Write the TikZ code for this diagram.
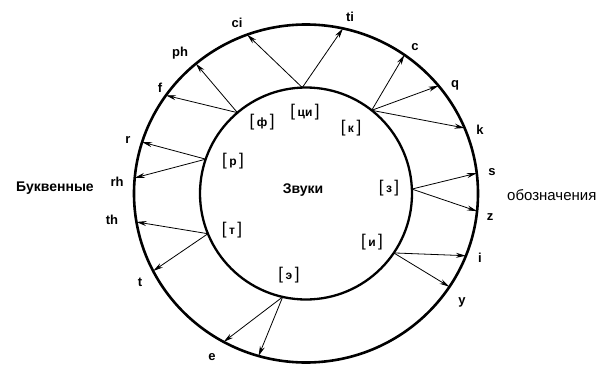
\documentclass[tikz,border=0pt]{standalone}
\usepackage{fontspec}
\setmainfont{Liberation Sans}
\usetikzlibrary{arrows.meta}
\newcommand{\snd}[1]{{\fontsize{17}{18}\selectfont[}\kern2.5pt{\fontsize{12}{13}\selectfont\bfseries #1}\kern2.5pt{\fontsize{17}{18}\selectfont]}}
\begin{document}
\begin{tikzpicture}[x=1pt,y=1pt,
  ring/.style={line width=2.6pt},
  arr/.style={line width=0.8pt,-{Stealth[length=10pt,width=5pt]}},
  lbl/.style={font=\fontsize{13}{14}\selectfont\bfseries,inner sep=0pt},
  sndlbl/.style={inner sep=0pt},
  word/.style={font=\fontsize{14}{15}\selectfont\bfseries,inner sep=0pt}]
\useasboundingbox (0,0) rectangle (603,368);
\fill[white] (0,0) rectangle (603,368);
\coordinate (C) at (306,174.5);
\draw[ring] (C) ellipse [x radius=172, y radius=169];
\draw[ring,line width=2.3pt] (C) circle [radius=106];
% inner source points
\path (C) ++(92:106) coordinate (s1);
\path (C) ++(130.3:106) coordinate (s2);
\path (C) ++(161.1:106) coordinate (s3);
\path (C) ++(202.3:106) coordinate (s4);
\path (C) ++(257.3:106) coordinate (s5);
\path (C) ++(325.9:106) coordinate (s6);
\path (C) ++(2.4:106) coordinate (s7);
\path (C) ++(51.7:106) coordinate (s8);
% outer end points
\path (C) ++(110:172 and 169) coordinate (oci);
\path (C) ++(77.6:172 and 169) coordinate (oti);
\path (C) ++(129.8:172 and 169) coordinate (oph);
\path (C) ++(144.5:172 and 169) coordinate (of);
\path (C) ++(162.3:172 and 169) coordinate (or);
\path (C) ++(174.7:172 and 169) coordinate (orh);
\path (C) ++(189.7:172 and 169) coordinate (oth);
\path (C) ++(207.3:172 and 169) coordinate (ot);
\path (C) ++(241.4:172 and 169) coordinate (oe1);
\path (C) ++(254:172 and 169) coordinate (oe2);
\path (C) ++(326.5:172 and 169) coordinate (oy);
\path (C) ++(338.4:172 and 169) coordinate (oi);
\path (C) ++(354:172 and 169) coordinate (oz);
\path (C) ++(6.9:172 and 169) coordinate (os);
\path (C) ++(22.8:172 and 169) coordinate (ok);
\path (C) ++(39.6:172 and 169) coordinate (oq);
\path (C) ++(55.1:172 and 169) coordinate (oc);
% arrows
\draw[arr] (s1) -- (oci);
\draw[arr] (s1) -- (oti);
\draw[arr] (s2) -- (oph);
\draw[arr] (s2) -- (of);
\draw[arr] (s3) -- (or);
\draw[arr] (s3) -- (orh);
\draw[arr] (s4) -- (oth);
\draw[arr] (s4) -- (ot);
\draw[arr] (s5) -- (oe1);
\draw[arr] (s5) -- (oe2);
\draw[arr] (s6) -- (oi);
\draw[arr] (s6) -- (oy);
\draw[arr] (s7) -- (os);
\draw[arr] (s7) -- (oz);
\draw[arr] (s8) -- (oc);
\draw[arr] (s8) -- (oq);
\draw[arr] (s8) -- (ok);
% letter labels
\node[lbl] (Lci) at (237,345) {ci};
\node[lbl] (Lti) at (350,351) {ti};
\node[lbl] (Lph) at (180,315) {ph};
\node[lbl] (Lf) at (160,280) {f};
\node[lbl] (Lr) at (128,228) {r};
\node[lbl] (Lrh) at (117,186) {rh};
\node[lbl] (Lth) at (112,148) {th};
\node[lbl] (Lt) at (140,86) {t};
\node[lbl] (Le) at (212,11) {e};
\node[lbl] (Lc) at (415,321) {c};
\node[lbl] (Lq) at (455,283) {q};
\node[lbl] (Lk) at (480,238) {k};
\node[lbl] (Ls) at (492,196) {s};
\node[lbl] (Lz) at (490,151) {z};
\node[lbl] (Li) at (480,110) {i};
\node[lbl] (Ly) at (462,66) {y};
% sounds
\node[sndlbl] (Sf) at (262,246) {\snd{ф}};
\node[sndlbl] (Sci) at (305,256) {\snd{ци}};
\node[sndlbl] (Sk) at (351,240) {\snd{к}};
\node[sndlbl] (Sr) at (233,207) {\snd{р}};
\node[sndlbl] (St) at (232,138) {\snd{т}};
\node[sndlbl] (Se) at (289,93) {\snd{э}};
\node[sndlbl] (Sz) at (389,180) {\snd{з}};
\node[sndlbl] (Si) at (372,126) {\snd{и}};
% words
\node[word] (Zv) at (303,178) {Звуки};
\node[word] (Bu) at (55,180) {Буквенные};
\node[word,font=\fontsize{15}{16}\selectfont,anchor=west] (Ob) at (507,173) {обозначения};
\end{tikzpicture}
\end{document}
